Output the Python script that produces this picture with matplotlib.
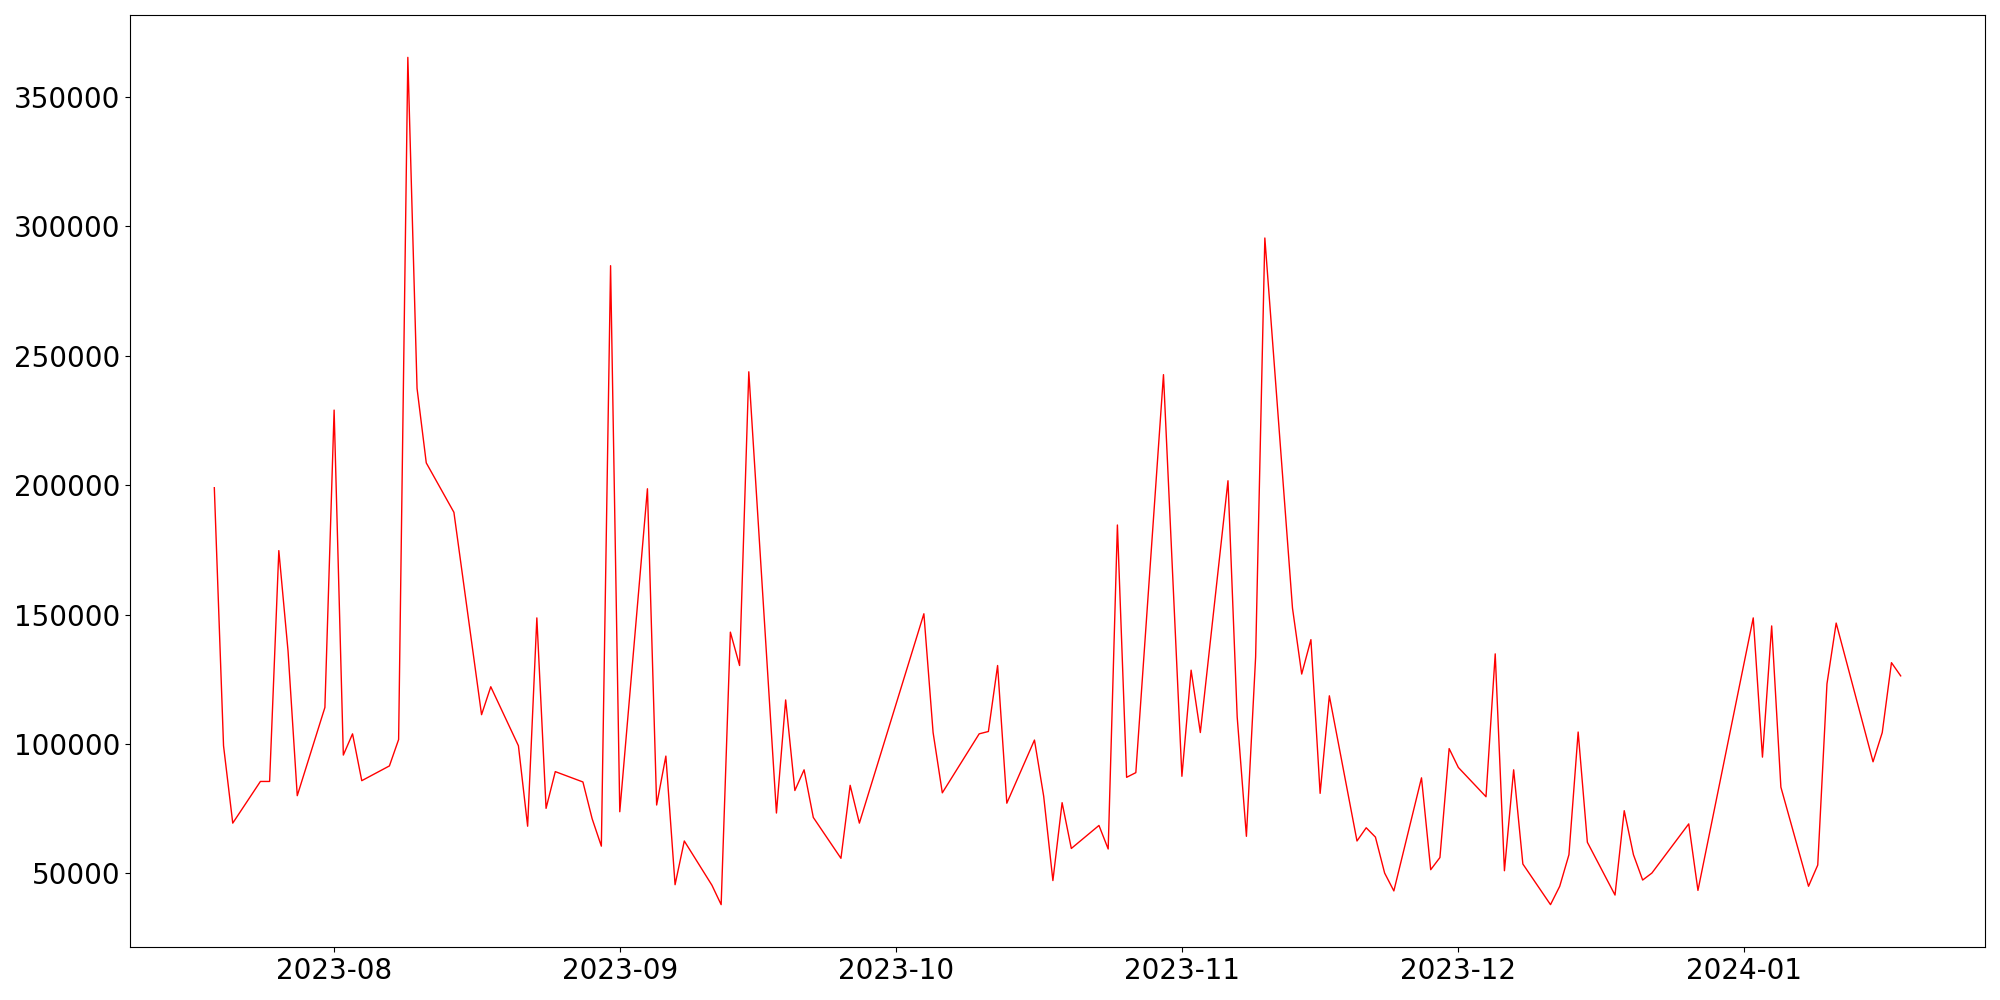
import pandas as pd
import matplotlib
matplotlib.use("Agg")
import matplotlib.pyplot as plt

# business days
dates = [
    "2023-07-19", "2023-07-20", "2023-07-21", "2023-07-24", "2023-07-25",
    "2023-07-26", "2023-07-27", "2023-07-28", "2023-07-31", "2023-08-01",
    "2023-08-02", "2023-08-03", "2023-08-04", "2023-08-07", "2023-08-08",
    "2023-08-09", "2023-08-10", "2023-08-11", "2023-08-14", "2023-08-17",
    "2023-08-18", "2023-08-21", "2023-08-22", "2023-08-23", "2023-08-24",
    "2023-08-25", "2023-08-28", "2023-08-29", "2023-08-30", "2023-08-31",
    "2023-09-01", "2023-09-04", "2023-09-05", "2023-09-06", "2023-09-07",
    "2023-09-08", "2023-09-11", "2023-09-12", "2023-09-13", "2023-09-14",
    "2023-09-15", "2023-09-18", "2023-09-19", "2023-09-20", "2023-09-21",
    "2023-09-22", "2023-09-25", "2023-09-26", "2023-09-27", "2023-10-04",
    "2023-10-05", "2023-10-06", "2023-10-10", "2023-10-11", "2023-10-12",
    "2023-10-13", "2023-10-16", "2023-10-17", "2023-10-18", "2023-10-19",
    "2023-10-20", "2023-10-23", "2023-10-24", "2023-10-25", "2023-10-26",
    "2023-10-27", "2023-10-30", "2023-11-01", "2023-11-02", "2023-11-03",
    "2023-11-06", "2023-11-07", "2023-11-08", "2023-11-09", "2023-11-10",
    "2023-11-13", "2023-11-14", "2023-11-15", "2023-11-16", "2023-11-17",
    "2023-11-20", "2023-11-21", "2023-11-22", "2023-11-23", "2023-11-24",
    "2023-11-27", "2023-11-28", "2023-11-29", "2023-11-30", "2023-12-01",
    "2023-12-04", "2023-12-05", "2023-12-06", "2023-12-07", "2023-12-08",
    "2023-12-11", "2023-12-12", "2023-12-13", "2023-12-14", "2023-12-15",
    "2023-12-18", "2023-12-19", "2023-12-20", "2023-12-21", "2023-12-22",
    "2023-12-26", "2023-12-27", "2024-01-02", "2024-01-03", "2024-01-04",
    "2024-01-05", "2024-01-08", "2024-01-09", "2024-01-10", "2024-01-11",
    "2024-01-15", "2024-01-16", "2024-01-17", "2024-01-18",
]

values = [
    199000, 99300, 69400, 85500, 85500,
    174700, 135900, 80000, 114100, 229000,
    95700, 103900, 85800, 91500, 101700,
    365300, 237400, 208600, 189500, 111300,
    122100, 99300, 68200, 148700, 75100,
    89300, 85300, 71100, 60500, 284800,
    73800, 198600, 76400, 95300, 45600,
    62500, 45400, 37900, 143200, 130300,
    243800, 73300, 117000, 82000, 90000,
    71600, 55800, 84000, 69400, 150300,
    104400, 81100, 103900, 104800, 130300,
    77100, 101500, 79800, 47200, 77300,
    59600, 68500, 59400, 184600, 87100,
    88900, 242700, 87500, 128500, 104400,
    201700, 110400, 64300, 133600, 295500,
    152500, 127000, 140300, 80900, 118600,
    62500, 67600, 64000, 50100, 43200,
    86900, 51400, 56100, 98200, 90900,
    79600, 134800, 51000, 90000, 53600,
    37900, 45000, 57200, 104600, 62000,
    41600, 74200, 57200, 47400, 50100,
    69100, 43400, 148700, 94900, 145600,
    83300, 45000, 53200, 123200, 146700,
    93100, 104400, 131400, 126300,
]

df = pd.DataFrame({"date": pd.to_datetime(dates), "value": values})

fig, ax = plt.subplots(figsize=(20, 10), dpi=100)
ax.plot(df["date"], df["value"], color="red", linewidth=1)
ax.tick_params(axis="both", labelsize=20)
plt.subplots_adjust(left=0.065, right=0.9925, bottom=0.053, top=0.985)
plt.savefig("out.png")
